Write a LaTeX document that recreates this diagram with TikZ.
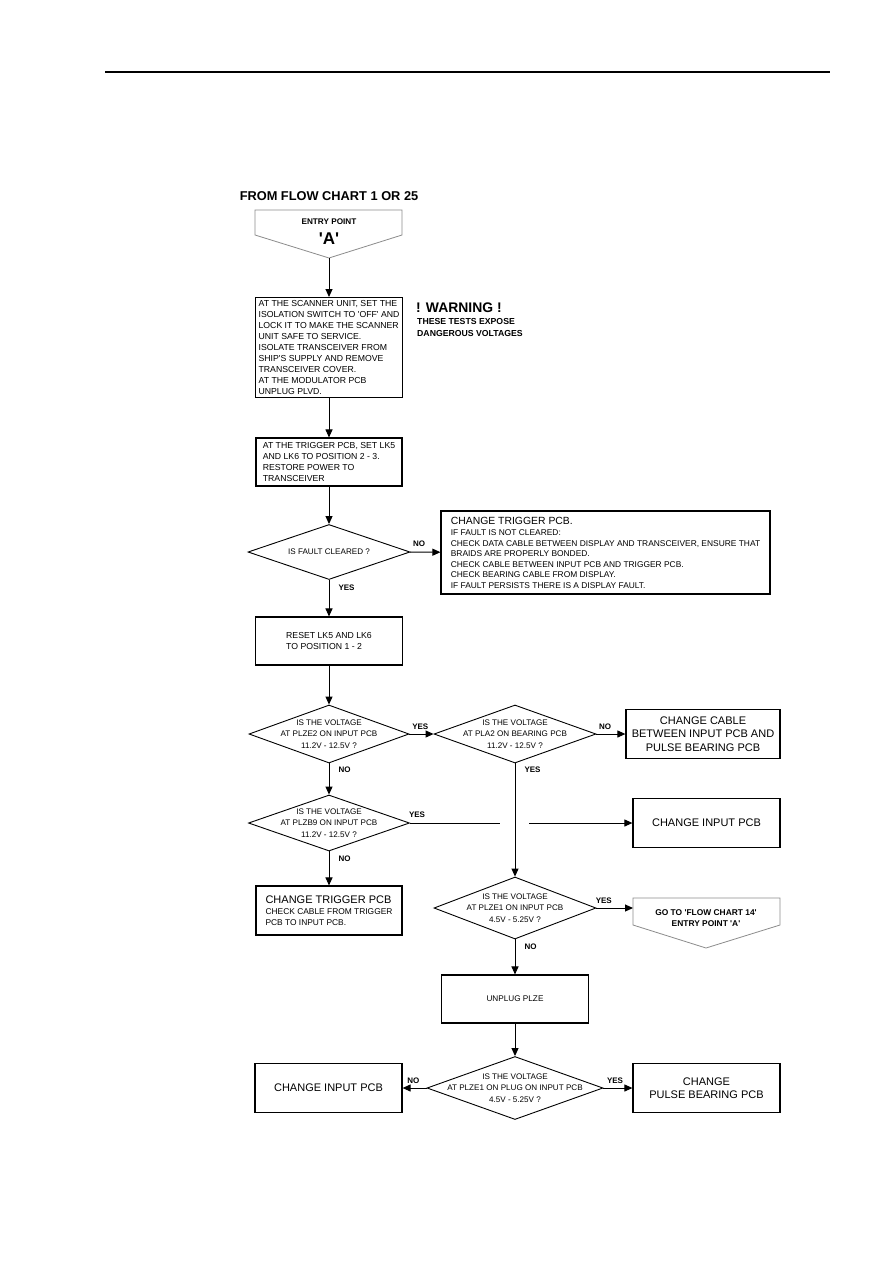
\documentclass[tikz,border=0pt]{standalone}
\usepackage{fontspec}
\setmainfont{Liberation Sans}[Ligatures=TeXOff]
\usetikzlibrary{shapes.geometric,arrows.meta}

\begin{document}
\begin{tikzpicture}[x=1pt,y=-1pt,line join=miter,
  box/.style={draw,line width=1.1pt,inner sep=3pt,align=left,font=\fontsize{8.7}{11}\selectfont},
  bigbox/.style={draw,line width=1.2pt,align=center,minimum width=147pt,minimum height=49pt,font=\fontsize{11}{13.5}\selectfont},
  dec/.style={draw,diamond,line width=0.9pt,inner sep=0pt},
  dlab/.style={align=center,inner sep=0pt,font=\fontsize{8.1}{11.5}\selectfont},
  yn/.style={inner sep=0pt,font=\bfseries\fontsize{8}{9}\selectfont},
  arr/.style={-{Triangle[length=8pt,width=7pt]},line width=1pt},
  entry/.style={draw=black!45,line width=0.8pt}]
\useasboundingbox[fill=white] (0,0) rectangle (893,1263);

% page rule
\draw[line width=1.2pt] (105,72) -- (830,72);

% entry point A
\node[font=\bfseries\fontsize{12.8}{15}\selectfont] (from) at (329,196) {FROM FLOW CHART 1 OR 25};
\draw[entry] (255,210) -- (402,210) -- (402,235) -- (329,258) coordinate (entA) -- (255,235) -- cycle;
\node[font=\bfseries\fontsize{8.2}{9}\selectfont] (entT) at (329,222) {ENTRY POINT};
\node[font=\bfseries\fontsize{17}{18}\selectfont] (entL) at (329,239) {'A'};

% isolate and make safe
\node[box,minimum width=146pt,minimum height=100pt,anchor=north] (iso) at (329,297) {AT THE SCANNER UNIT, SET THE\\ISOLATION SWITCH TO 'OFF' AND\\LOCK IT TO MAKE THE SCANNER\\UNIT SAFE TO SERVICE.\\ISOLATE TRANSCEIVER FROM\\SHIP'S SUPPLY AND REMOVE\\TRANSCEIVER COVER.\\AT THE MODULATOR PCB\\UNPLUG PLVD.};
\draw[arr] (entA) -- (iso);

\node[anchor=west,inner sep=0pt,font=\bfseries\fontsize{13.9}{15}\selectfont] (warn) at (416,308) {! WARNING !};
\node[anchor=north west,align=left,inner sep=0pt,font=\bfseries\fontsize{8.7}{12}\selectfont] (warnT) at (417,318.5) {THESE TESTS EXPOSE\\DANGEROUS VOLTAGES};

% trigger links
\node[box,minimum width=146pt,minimum height=48pt] (lk) at (329,462) {AT THE TRIGGER PCB, SET LK5\\AND LK6 TO POSITION 2 - 3.\\RESTORE POWER TO\\TRANSCEIVER};
\draw[arr] (iso) -- (lk);

\node[dec,minimum width=162pt,minimum height=55pt,label={[dlab]center:IS FAULT CLEARED ?}] (clr) at (329,552) {};
\draw[arr] (lk) -- (clr);

\node[box,minimum width=329pt,minimum height=83pt,inner xsep=4pt,font=\fontsize{8.4}{10.5}\selectfont] (chgT) at (605.5,552.5) {{\fontsize{10.4}{12}\selectfont CHANGE TRIGGER PCB.}\\[1pt]IF FAULT IS NOT CLEARED:\\CHECK DATA CABLE BETWEEN DISPLAY AND TRANSCEIVER, ENSURE THAT\\BRAIDS ARE PROPERLY BONDED.\\CHECK CABLE BETWEEN INPUT PCB AND TRIGGER PCB.\\CHECK BEARING CABLE FROM DISPLAY.\\IF FAULT PERSISTS THERE IS A DISPLAY FAULT.};
\draw[arr] (clr) -- (chgT) node[yn,pos=0.3,above=5pt] (n1) {NO};

\node[box,minimum width=147pt,minimum height=48pt] (rst) at (329,641) {RESET LK5 AND LK6\\TO POSITION 1 - 2};
\draw[arr] (clr) -- (rst) node[yn,pos=0.2,right=9pt] (y1) {YES};

% voltage checks
\node[dec,minimum width=160pt,minimum height=58pt,label={[dlab]center:IS THE VOLTAGE\\AT PLZE2 ON INPUT PCB\\11.2V - 12.5V ?}] (pe2) at (329,734) {};
\draw[arr] (rst) -- (pe2);

\node[dec,minimum width=162pt,minimum height=58pt,label={[dlab]center:IS THE VOLTAGE\\AT PLA2 ON BEARING PCB\\11.2V - 12.5V ?}] (pa2) at (515,734) {};
\draw[arr] (pe2) -- (pa2) node[yn,pos=0.45,above=4pt] (y2) {YES};

\node[bigbox,minimum width=154pt] (cab) at (703,734) {CHANGE CABLE\\BETWEEN INPUT PCB AND\\PULSE BEARING PCB};
\draw[arr] (pa2) -- (cab) node[yn,pos=0.3,above=4pt] (n3) {NO};

\node[dec,minimum width=161pt,minimum height=56pt,label={[dlab]center:IS THE VOLTAGE\\AT PLZB9 ON INPUT PCB\\11.2V - 12.5V ?}] (pb9) at (329,823) {};
\draw[arr] (pe2) -- (pb9) node[yn,pos=0.2,right=9pt] (n2) {NO};

\node[bigbox] (inp1) at (706.5,823) {CHANGE INPUT PCB};
\coordinate (gapL) at (500,823);
\coordinate (gapR) at (529,823);
\draw[line width=1pt] (pb9) -- (gapL);
\draw[arr] (gapR) -- (inp1);
\node[yn] (y4) at (417,815) {YES};

\node[box,minimum width=146pt,minimum height=49pt,font=\fontsize{8.4}{10.5}\selectfont,inner xsep=8pt] (chgT2) at (329,910.5) {{\fontsize{11}{12}\selectfont CHANGE TRIGGER PCB}\\[1pt]CHECK CABLE FROM TRIGGER\\PCB TO INPUT PCB.};
\draw[arr] (pb9) -- (chgT2) node[yn,pos=0.2,right=9pt] (n4) {NO};

\node[dec,minimum width=162pt,minimum height=62pt,label={[dlab]center:IS THE VOLTAGE\\AT PLZE1 ON INPUT PCB\\4.5V - 5.25V ?}] (pe1) at (515,908) {};
\draw[arr] (pa2) -- (pe1) node[yn,pos=0.06,right=9pt] (y3) {YES};

% exit to flow chart 14
\draw[entry] (633,898) -- (780,898) -- (780,925) -- (706,948) -- (633,925) -- cycle;
\coordinate (ext) at (633,908);
\node[align=center,font=\bfseries\fontsize{8.4}{11.5}\selectfont] (extT) at (706,918) {GO TO 'FLOW CHART 14'\\ENTRY POINT 'A'};
\draw[arr] (pe1) -- (ext) node[yn,pos=0.2,above=4pt] (y5) {YES};

\node[box,minimum width=147pt,minimum height=48pt,align=center,font=\fontsize{8.2}{10}\selectfont] (unp) at (515,999) {UNPLUG PLZE};
\draw[arr] (pe1) -- (unp) node[yn,pos=0.2,right=9pt] (n5) {NO};

\node[dec,minimum width=176pt,minimum height=63pt,label={[dlab]center:IS THE VOLTAGE\\AT PLZE1 ON PLUG ON INPUT PCB\\4.5V - 5.25V ?}] (plg) at (515,1088) {};
\draw[arr] (unp) -- (plg);

\node[bigbox] (inp2) at (328.5,1088) {CHANGE INPUT PCB};
\draw[arr] (plg) -- (inp2) node[yn,pos=0.55,above=4pt] (n6) {NO};

\node[bigbox] (pbp) at (706.5,1088) {CHANGE\\PULSE BEARING PCB};
\draw[arr] (plg) -- (pbp) node[yn,pos=0.4,above=4pt] (y6) {YES};

\end{tikzpicture}
\end{document}
